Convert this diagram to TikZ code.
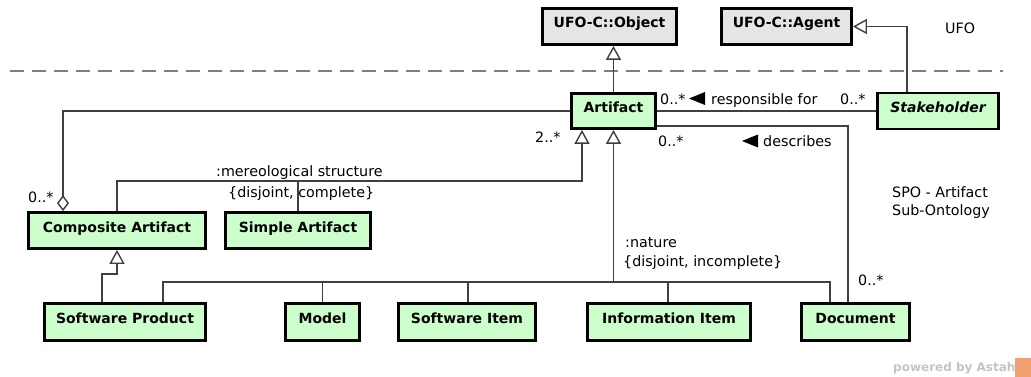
\documentclass[tikz,border=0pt]{standalone}
\usepackage{fontspec}
\setmainfont{DejaVu Sans}
\usetikzlibrary{arrows.meta}
\definecolor{clsgreen}{RGB}{204,255,204}
\definecolor{clsgray}{RGB}{229,229,229}
\definecolor{conncol}{RGB}{64,64,64}
\definecolor{wmgray}{RGB}{196,196,196}
\definecolor{wmorange}{RGB}{242,160,112}
\begin{document}
\begin{tikzpicture}[x=1pt,y=-1pt,
  cls/.style={draw=black, line width=2.8pt, fill=clsgreen, inner sep=0pt,
    font=\bfseries\fontsize{14}{16}\selectfont, minimum height=36pt,
    text height=11pt, text depth=8pt},
  graycls/.style={cls, fill=clsgray},
  conn/.style={draw=conncol, line width=1.4pt},
  gen/.style={conn, -{Triangle[open, length=14pt, width=15pt, fill=white]}},
  agg/.style={conn, {Diamond[open, length=16pt, width=12pt, fill=white]}-},
  lbl/.style={inner sep=0pt, anchor=base west, font=\fontsize{14.3}{17}\selectfont, text=black},
  wm/.style={inner sep=0pt, anchor=base west, font=\bfseries\fontsize{12}{14}\selectfont, text=wmgray}]
\useasboundingbox (0,0) rectangle (1031,377);
\fill[white] (0,0) rectangle (1031,377);

% package separator
\draw[draw=gray, line width=1.8pt, dash pattern=on 14pt off 8pt] (10,71) -- (1003,71);

% classes
\node[graycls, minimum width=134pt] (obj) at (609.5,26.5) {UFO-C::Object};
\node[graycls, minimum width=130pt] (agent) at (786.5,26.5) {UFO-C::Agent};
\node[cls, minimum width=84pt, minimum height=35pt] (artifact) at (613.5,111) {Artifact};
\node[cls, minimum width=121pt, minimum height=36pt, font=\bfseries\itshape\fontsize{14}{16}\selectfont] (stake) at (938,111) {Stakeholder};
\node[cls, minimum width=177pt] (composite) at (117,230.5) {Composite Artifact};
\node[cls, minimum width=145pt] (simple) at (298,230.5) {Simple Artifact};
\node[cls, minimum width=161pt, minimum height=37pt] (swprod) at (125,322) {Software Product};
\node[cls, minimum width=74pt, minimum height=37pt] (model) at (322.5,322) {Model};
\node[cls, minimum width=137pt, minimum height=37pt] (switem) at (467,322) {Software Item};
\node[cls, minimum width=163pt, minimum height=37pt] (info) at (669,322) {Information Item};
\node[cls, minimum width=108pt, minimum height=37pt] (doc) at (855.5,322) {Document};

% generalizations to UFO
\draw[gen] (artifact.north) -- (artifact.north |- obj.south);
\draw[gen] ([xshift=-31pt]stake.north) |- (agent.east);

% associations
\draw[conn] (artifact.east) -- (stake.west);
\draw[conn] ([yshift=4pt]artifact.south east) -| ([xshift=-7.5pt]doc.north);
\draw[agg] ([xshift=-54pt]composite.north) |- (artifact.west);

% mereological structure
\coordinate (mtip) at ([xshift=-31.5pt]artifact.south);
\coordinate (mbar) at (mtip |- 0,181);
\draw[gen] (composite.north) |- (mbar) -- (mtip);
\draw[conn] (simple.north) -- (simple.north |- mbar);

% nature
\coordinate (ntip) at (artifact.south);
\coordinate (nbar) at (ntip |- 0,282);
\draw[gen] (nbar) -- (ntip);
\draw[conn] ([xshift=38pt]swprod.north) |- (nbar) -| ([xshift=-25.5pt]doc.north);
\draw[conn] (model.north) -- (model.north |- nbar);
\draw[conn] ([xshift=1pt]switem.north) -- ([xshift=1pt]switem.north |- nbar);
\draw[conn] ([xshift=-1pt]info.north) -- ([xshift=-1pt]info.north |- nbar);

% software product -> composite artifact
\draw[gen] ([xshift=-23pt]swprod.north) -- ++(0,-28) -| (composite.south);

% labels
\node[lbl] (m1) at (660,105) {0..*};
\node[lbl] (resp) at (711,105) {responsible for};
\fill[black] ([xshift=-6pt,yshift=13pt]resp.base west) -- ++(0,13) -- ++(-16,-6.5) -- cycle;
\node[lbl] (m2) at (840,105) {0..*};
\node[lbl] (m3) at (658,147) {0..*};
\node[lbl] (desc) at (763,147) {describes};
\fill[black] ([xshift=-5pt,yshift=12.5pt]desc.base west) -- ++(0,13) -- ++(-16,-6.5) -- cycle;
\node[lbl] (m4) at (535,143) {2..*};
\node[lbl] (mereo) at (216,177) {:mereological structure};
\node[lbl] (mereoc) at (228,197) {\{disjoint, complete\}};
\node[lbl] (m5) at (28,202) {0..*};
\node[lbl] (nat) at (625,247) {:nature};
\node[lbl] (natc) at (623,266) {\{disjoint, incomplete\}};
\node[lbl] (m6) at (858,285) {0..*};
\node[lbl] (ufo) at (945,34) {UFO};
\node[lbl] (spo1) at (892,197) {SPO - Artifact};
\node[lbl] (spo2) at (892,215) {Sub-Ontology};

% watermark
\node[wm] (wmark) at (893,371) {powered by Astah};
\fill[wmorange] (1015,358) rectangle (1031,377);
\end{tikzpicture}
\end{document}
